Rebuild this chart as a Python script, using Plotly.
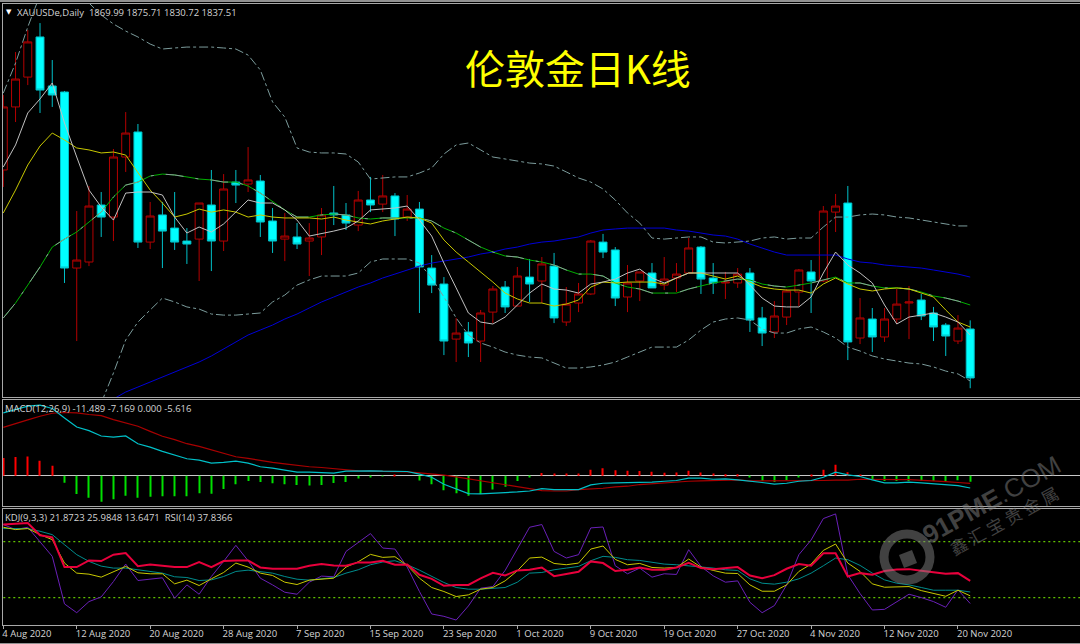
import plotly.graph_objects as go

symbol_label = "XAUUSDe,Daily  1869.99 1875.71 1830.72 1837.51"
macd_label = "MACD(12,26,9) -11.489 -7.169 0.000 -5.616"
kdj_label = "KDJ(9,3,3) 21.8723 25.9848 13.6471  RSI(14) 37.8366"
chart_title = "伦敦金日K线"
watermark = "<b>91PME</b>.COM"
watermark_cn = "鑫 汇 宝 贵 金 属"

tick_bars = [0, 6, 12, 18, 24, 30, 36, 42, 48, 54, 60, 66, 72, 78]
tick_labels = ["4 Aug 2020", "12 Aug 2020", "20 Aug 2020", "28 Aug 2020", "7 Sep 2020", "15 Sep 2020",
               "23 Sep 2020", "1 Oct 2020", "9 Oct 2020", "19 Oct 2020", "27 Oct 2020", "4 Nov 2020",
               "12 Nov 2020", "20 Nov 2020"]

opens = [1975.4, 2017.2, 2037.0, 2063.6, 2031.1, 2027.1, 1910.4, 1914.4, 1952.2, 1944.2,
         1984.0, 2000.6, 1927.6, 1945.6, 1936.9, 1928.3, 1929.6, 1952.2, 1928.3, 1967.4,
         1966.1, 1968.1, 1941.6, 1929.6, 1931.0, 1928.3, 1931.0, 1946.9, 1945.6, 1938.9,
         1955.5, 1952.8, 1958.2, 1944.2, 1949.5, 1910.4, 1899.8, 1863.3, 1868.0, 1862.0,
         1881.2, 1897.8, 1885.2, 1904.4, 1901.8, 1911.7, 1874.6, 1887.2, 1893.2, 1927.6,
         1922.4, 1891.2, 1901.8, 1907.1, 1899.1, 1903.8, 1907.1, 1924.3, 1903.8, 1900.5,
         1900.5, 1907.1, 1877.3, 1868.0, 1877.9, 1894.5, 1907.8, 1901.8, 1947.5, 1953.5,
         1864.0, 1876.6, 1864.7, 1876.6, 1887.2, 1889.2, 1880.6, 1872.6, 1862.0, 1869.99]
highs = [2025.1, 2053.6, 2068.2, 2072.8, 2048.3, 2027.8, 1948.2, 1964.8, 1960.8, 1989.3,
         2013.8, 2005.9, 1954.2, 1954.2, 1960.8, 1936.9, 1953.5, 1975.4, 1972.7, 1975.4,
         1990.6, 1972.1, 1950.2, 1946.9, 1940.2, 1940.2, 1950.2, 1964.8, 1953.5, 1961.5,
         1970.8, 1972.1, 1960.1, 1958.8, 1954.2, 1919.0, 1904.4, 1877.3, 1874.6, 1882.6,
         1898.5, 1901.8, 1911.1, 1916.4, 1917.7, 1920.4, 1897.8, 1900.5, 1929.0, 1933.0,
         1924.3, 1912.4, 1907.8, 1913.7, 1917.7, 1913.7, 1930.3, 1925.0, 1913.7, 1907.8,
         1910.4, 1910.4, 1884.6, 1888.5, 1896.5, 1909.7, 1915.7, 1951.5, 1959.5, 1964.8,
         1890.5, 1883.9, 1883.9, 1896.5, 1898.5, 1893.2, 1884.6, 1873.9, 1879.2, 1875.71]
lows = [1964.1, 2007.2, 2031.7, 2013.2, 2017.2, 1900.5, 1862.0, 1911.7, 1931.0, 1928.3,
        1974.1, 1923.7, 1923.0, 1910.4, 1922.4, 1913.1, 1901.8, 1908.4, 1921.7, 1953.5,
        1960.8, 1931.0, 1920.4, 1915.0, 1923.0, 1905.1, 1919.0, 1938.9, 1935.6, 1934.9,
        1947.5, 1947.5, 1931.6, 1941.6, 1880.6, 1893.8, 1852.7, 1848.1, 1851.4, 1848.1,
        1873.9, 1880.6, 1885.2, 1887.9, 1887.2, 1873.9, 1872.0, 1881.2, 1892.5, 1917.0,
        1885.2, 1881.2, 1888.5, 1897.2, 1895.8, 1894.5, 1907.1, 1893.2, 1893.2, 1889.9,
        1897.2, 1868.0, 1858.7, 1864.0, 1872.6, 1885.2, 1880.6, 1901.1, 1934.3, 1849.4,
        1860.0, 1854.7, 1861.4, 1873.3, 1863.3, 1875.9, 1862.0, 1852.1, 1860.0, 1830.72]
closes = [2017.2, 2035.7, 2060.3, 2028.4, 2025.1, 1910.4, 1915.7, 1951.5, 1944.2, 1984.0,
          1999.9, 1927.6, 1944.9, 1934.9, 1927.6, 1926.3, 1953.5, 1928.3, 1962.8, 1965.4,
          1968.8, 1940.9, 1928.3, 1931.6, 1926.3, 1930.3, 1945.6, 1945.6, 1940.2, 1955.5,
          1952.2, 1958.2, 1942.9, 1949.5, 1911.1, 1899.1, 1862.0, 1867.3, 1860.7, 1880.6,
          1896.5, 1884.6, 1905.1, 1899.8, 1913.1, 1877.3, 1886.5, 1893.2, 1928.3, 1921.0,
          1890.5, 1900.5, 1907.8, 1897.2, 1903.1, 1906.4, 1923.7, 1903.1, 1900.5, 1901.1,
          1906.4, 1875.9, 1867.3, 1878.6, 1895.2, 1909.1, 1901.8, 1948.2, 1951.5, 1861.4,
          1877.3, 1864.7, 1876.6, 1886.5, 1887.9, 1878.6, 1871.3, 1865.3, 1870.6, 1837.51]

ma_white = [1977.4, 1992.0, 2013.2, 2022.5, 2033.1, 2006.6, 1984.0, 1962.1, 1950.9, 1942.2,
            1960.1, 1960.8, 1960.8, 1958.8, 1944.2, 1933.6, 1937.6, 1934.3, 1939.6, 1947.5,
            1955.5, 1953.5, 1953.5, 1948.9, 1942.2, 1931.6, 1933.0, 1934.9, 1936.9, 1941.6,
            1948.9, 1949.5, 1950.2, 1951.5, 1942.2, 1931.6, 1913.7, 1897.2, 1880.6, 1874.6,
            1873.3, 1877.9, 1885.9, 1893.8, 1899.8, 1896.5, 1895.8, 1893.8, 1899.8, 1901.1,
            1903.1, 1907.1, 1909.7, 1903.8, 1900.5, 1903.8, 1907.1, 1907.1, 1907.1, 1907.1,
            1907.1, 1899.1, 1890.5, 1885.2, 1884.6, 1884.6, 1891.2, 1907.1, 1921.0, 1912.4,
            1907.1, 1900.5, 1885.9, 1873.3, 1877.9, 1879.2, 1880.6, 1877.9, 1874.6, 1866.0]
ma_yellow = [1946.9, 1962.1, 1978.7, 1991.3, 1999.9, 1995.3, 1990.0, 1988.7, 1986.7, 1987.3,
             1985.3, 1973.4, 1962.1, 1953.5, 1944.2, 1946.2, 1949.5, 1947.5, 1948.9, 1947.5,
             1944.2, 1945.6, 1944.2, 1943.6, 1943.6, 1943.6, 1942.9, 1944.2, 1942.2, 1940.9,
             1939.6, 1941.6, 1942.9, 1944.2, 1943.6, 1940.2, 1929.0, 1921.0, 1914.4, 1907.8,
             1901.1, 1893.8, 1889.9, 1887.2, 1887.2, 1885.2, 1886.5, 1889.2, 1897.8, 1901.1,
             1900.5, 1901.1, 1901.1, 1901.1, 1899.8, 1903.8, 1907.1, 1907.1, 1905.1, 1903.1,
             1905.1, 1901.1, 1897.8, 1896.5, 1895.8, 1895.8, 1893.8, 1899.8, 1903.8, 1899.8,
             1896.5, 1895.2, 1896.5, 1897.2, 1896.5, 1893.8, 1891.2, 1882.6, 1874.6, 1871.3]
ma_green = [1877.3, 1887.2, 1899.1, 1911.1, 1924.3, 1929.6, 1934.3, 1940.9, 1947.5, 1957.5,
            1965.4, 1967.4, 1971.4, 1972.7, 1972.1, 1970.8, 1969.4, 1968.8, 1967.4, 1967.4,
            1964.8, 1960.1, 1954.2, 1948.9, 1944.2, 1944.2, 1945.6, 1946.2, 1945.6, 1943.6,
            1942.9, 1943.6, 1943.6, 1943.6, 1943.6, 1941.6, 1936.9, 1933.6, 1929.0, 1924.3,
            1921.0, 1918.4, 1917.7, 1915.7, 1914.4, 1912.4, 1909.1, 1906.4, 1906.4, 1905.1,
            1900.5, 1897.8, 1896.5, 1893.8, 1893.8, 1893.8, 1896.5, 1898.5, 1900.5, 1901.8,
            1903.1, 1902.5, 1899.8, 1898.5, 1897.8, 1899.1, 1900.5, 1902.5, 1904.4, 1900.5,
            1900.5, 1898.5, 1897.2, 1897.2, 1896.5, 1894.5, 1891.9, 1890.5, 1888.5, 1885.9]
ma_blue = [None, None, None, None, None, None, None, None, None, 1823.6,
           1828.2, 1831.5, 1834.9, 1838.2, 1841.5, 1844.8, 1848.1, 1852.1, 1856.7, 1861.4,
           1866.0, 1869.3, 1872.6, 1876.6, 1879.9, 1883.9, 1887.9, 1891.2, 1894.5, 1897.8,
           1900.5, 1903.8, 1906.4, 1909.1, 1911.7, 1913.7, 1915.0, 1916.4, 1917.7, 1919.7,
           1921.0, 1923.0, 1924.3, 1926.3, 1927.6, 1928.3, 1929.6, 1931.0, 1933.6, 1935.6,
           1936.3, 1936.9, 1936.9, 1936.9, 1936.9, 1935.6, 1934.9, 1933.6, 1932.3, 1931.6,
           1929.6, 1926.3, 1923.7, 1921.0, 1919.0, 1919.0, 1919.0, 1919.0, 1919.0, 1916.4,
           1914.4, 1913.7, 1912.4, 1911.7, 1911.1, 1910.4, 1909.1, 1907.8, 1906.4, 1904.4]
bb_upper = [2026.4, 2046.3, 2070.2, 2091.4, 2101.4, 2108.0, 2101.4, 2086.1, 2078.2, 2072.2,
            2067.5, 2063.6, 2058.9, 2055.6, 2056.3, 2056.9, 2056.9, 2056.9, 2056.3, 2055.6,
            2051.6, 2041.7, 2020.5, 2010.5, 1990.0, 1987.3, 1986.7, 1986.7, 1986.0, 1980.7,
            1969.4, 1970.1, 1970.8, 1970.8, 1973.4, 1976.7, 1986.0, 1992.0, 1993.3, 1988.7,
            1984.0, 1982.7, 1981.4, 1980.0, 1979.4, 1978.0, 1974.1, 1970.1, 1967.4, 1962.8,
            1955.5, 1946.9, 1940.2, 1930.3, 1929.6, 1930.3, 1931.0, 1931.0, 1927.6, 1927.0,
            1927.6, 1928.3, 1930.3, 1931.0, 1929.6, 1930.3, 1930.3, 1937.6, 1944.2, 1944.2,
            1945.6, 1946.2, 1945.6, 1944.2, 1943.6, 1942.2, 1940.9, 1939.6, 1938.3, 1938.3]
bb_lower = [None, None, None, None, None, None, None, None, 1820.9, 1840.8,
            1862.7, 1874.6, 1882.6, 1890.5, 1887.9, 1884.6, 1883.2, 1879.9, 1879.2, 1879.2,
            1879.9, 1880.6, 1887.9, 1892.5, 1899.1, 1902.5, 1905.1, 1905.1, 1905.1, 1907.1,
            1914.4, 1916.4, 1916.4, 1916.4, 1913.7, 1903.8, 1891.2, 1877.3, 1866.0, 1860.7,
            1858.0, 1854.7, 1852.7, 1851.4, 1850.8, 1847.4, 1844.1, 1844.1, 1844.8, 1846.1,
            1848.1, 1851.4, 1854.7, 1858.0, 1858.0, 1858.0, 1862.7, 1869.3, 1874.6, 1876.6,
            1877.3, 1875.9, 1870.0, 1867.3, 1867.3, 1870.0, 1871.3, 1868.0, 1864.0, 1858.0,
            1855.4, 1852.1, 1850.1, 1848.8, 1847.4, 1846.8, 1844.8, 1842.1, 1840.2, 1835.5]

macd_line = [59.5, 62.7, 65.9, 66.8, 63.7, 54.8, 46.2, 42.8, 37.7, 36.7,
             37.7, 30.4, 27.2, 23.1, 19.3, 16.2, 14.9, 12.0, 12.7, 13.9,
             12.0, 8.6, 7.3, 5.1, 3.5, 3.5, 3.2, 2.5, 4.4, 4.8,
             4.8, 4.4, 4.1, 4.1, 1.6, -1.3, -7.9, -12.7, -16.8, -17.1,
             -16.5, -16.5, -15.2, -14.3, -12.0, -13.0, -13.0, -13.0, -8.6, -7.0,
             -6.7, -6.7, -6.0, -6.0, -5.1, -4.4, -2.2, -2.2, -3.2, -2.9,
             -3.8, -4.8, -6.3, -7.9, -7.0, -5.1, -4.4, -1.3, 3.5, 1.0,
             -0.6, -3.8, -6.7, -6.7, -6.0, -6.7, -7.3, -8.6, -9.2, -11.489]
macd_signal = [45.9, 49.1, 52.9, 56.4, 59.2, 59.9, 59.5, 58.0, 57.0, 53.2,
               50.0, 46.9, 42.1, 37.4, 34.2, 30.4, 27.9, 24.7, 21.5, 18.1,
               16.5, 14.3, 12.7, 11.4, 9.8, 8.6, 7.9, 6.7, 5.4, 4.8,
               4.4, 4.4, 4.4, 3.8, 2.9, 1.9, 0.6, -1.0, -2.9, -4.8,
               -6.7, -8.6, -10.5, -12.4, -13.9, -14.3, -14.3, -13.0, -12.7, -11.7,
               -10.5, -9.8, -8.2, -7.3, -6.3, -6.0, -5.1, -4.8, -4.4, -3.8,
               -3.8, -4.8, -4.8, -5.1, -5.1, -5.1, -4.8, -4.4, -4.1, -4.1,
               -3.2, -3.5, -3.5, -3.5, -3.5, -4.1, -4.1, -5.4, -6.3, -7.169]
macd_hist = [16.8, 17.8, 18.3, 14.3, 9.5, -6.4, -17.1, -20.6, -24.4, -22.1,
             -18.7, -20.6, -19.7, -19.3, -19.3, -19.3, -16.4, -16.8, -12.4, -7.9,
             -4.8, -5.7, -6.9, -7.9, -8.6, -9.2, -8.6, -6.7, -5.7, -2.6,
             -1.2, -0.3, 1.0, 0.0, -4.5, -7.9, -13.6, -16.4, -18.7, -17.1,
             -13.0, -10.2, -4.8, -1.6, 2.6, 2.2, 2.2, 2.2, 5.7, 7.3,
             5.4, 4.8, 4.5, 3.8, 2.9, 3.1, 4.8, 3.1, 2.2, 1.6,
             1.6, -1.6, -4.8, -5.7, -4.1, -1.2, 1.0, 5.7, 10.5, 3.5,
             1.0, -3.5, -4.8, -4.8, -4.8, -4.8, -4.8, -4.8, -4.1, -5.616]

kdj_k = [95.4, 92.9, 94.0, 87.5, 82.1, 57.0, 46.2, 45.1, 41.9, 48.0,
         53.4, 46.6, 45.5, 45.5, 34.7, 38.7, 32.9, 40.1, 46.9, 57.0,
         52.7, 46.2, 43.7, 36.5, 34.0, 38.7, 40.1, 40.8, 52.7, 58.4,
         66.3, 63.1, 63.8, 54.5, 40.8, 30.8, 26.5, 21.1, 22.9, 29.0,
         30.8, 37.9, 48.7, 62.4, 63.4, 56.6, 55.2, 57.0, 72.0, 75.3,
         60.9, 55.2, 56.6, 52.3, 51.6, 52.3, 61.3, 52.7, 49.1, 46.2,
         45.8, 33.6, 26.8, 26.8, 33.6, 48.0, 55.9, 70.6, 77.4, 57.0,
         48.0, 34.7, 31.1, 31.1, 31.8, 27.5, 24.7, 21.4, 27.9, 21.8723]
kdj_d = [94.0, 94.0, 94.0, 91.1, 87.5, 76.7, 66.0, 58.8, 53.7, 51.6,
         51.6, 49.8, 48.0, 46.2, 42.3, 41.5, 38.3, 39.0, 42.6, 48.0,
         49.4, 48.0, 46.2, 42.6, 39.7, 38.7, 40.1, 41.5, 46.2, 49.8,
         55.2, 58.1, 59.5, 55.2, 49.4, 42.6, 36.2, 30.8, 29.0, 29.0,
         30.0, 30.8, 36.5, 46.2, 46.9, 49.8, 51.6, 53.4, 59.5, 64.2,
         63.1, 60.6, 59.8, 58.1, 55.9, 55.2, 54.1, 52.3, 51.6, 49.8,
         49.1, 40.1, 35.4, 34.4, 36.5, 40.1, 46.2, 54.1, 62.4, 60.6,
         54.5, 46.2, 39.0, 35.4, 33.6, 30.8, 27.9, 27.9, 27.9, 25.9848]
kdj_j = [98.3, 92.9, 95.4, 80.3, 64.2, 13.2, 3.8, 15.7, 20.7, 37.2,
         55.9, 38.3, 39.7, 41.2, 19.3, 33.6, 23.6, 42.6, 58.8, 76.0,
         59.5, 40.8, 33.6, 25.7, 23.6, 36.5, 43.0, 42.3, 69.5, 79.2,
         88.6, 73.1, 72.0, 52.7, 26.5, 2.4, -0.1, -4.1, 11.0, 30.0,
         31.8, 49.1, 72.4, 95.4, 98.3, 69.5, 62.4, 66.0, 94.7, 95.7,
         54.1, 45.5, 51.6, 41.9, 45.5, 44.8, 71.3, 53.4, 43.3, 36.5,
         37.9, 15.0, 3.8, 11.4, 33.6, 66.0, 81.7, 104.7, 109.7, 44.4,
         24.3, 6.7, 7.4, 15.7, 23.6, 20.0, 15.7, 9.6, 28.3, 13.6471]
rsi = [98.3, 99.3, 99.9, 86.8, 84.6, 52.7, 52.7, 59.8, 59.1, 66.0,
       67.7, 53.7, 55.5, 54.1, 52.7, 52.7, 58.0, 52.7, 59.1, 59.8,
       59.8, 52.3, 50.9, 50.9, 50.9, 54.1, 55.9, 54.5, 54.1, 57.7,
       57.7, 59.5, 55.2, 55.5, 44.4, 40.1, 32.6, 33.6, 33.6, 40.5,
       46.6, 43.7, 49.1, 49.8, 52.3, 43.0, 45.5, 47.6, 58.8, 57.0,
       48.4, 49.8, 52.3, 49.8, 49.8, 52.3, 57.3, 51.6, 50.5, 51.2,
       52.7, 43.7, 40.8, 44.1, 50.9, 55.9, 54.1, 67.4, 67.4, 42.6,
       46.2, 44.4, 48.4, 50.2, 50.5, 48.7, 46.9, 45.5, 46.2, 37.8366]
level_high = 80
level_low = 20

bars = list(range(len(closes)))
for series in (opens, highs, lows, ma_white, ma_yellow, ma_green, ma_blue, bb_upper, bb_lower,
               macd_line, macd_signal, macd_hist, kdj_k, kdj_d, kdj_j, rsi):
    assert len(series) == 80, len(series)

W, H = 1080, 644
def py(p):
    return 1 - p / H
def px(p):
    return p / W

GRID = "#a8a8a8"
TEXT = "#d4d4d4"
FONT = "Open Sans"
LABEL_SIZE = 9.5

fig = go.Figure()

fig.add_trace(go.Candlestick(
    x=bars, open=opens, high=highs, low=lows, close=closes, xaxis="x", yaxis="y",
    increasing=dict(line=dict(color="#b40000", width=1), fillcolor="black"),
    decreasing=dict(line=dict(color="#00c0c8", width=1), fillcolor="#00ffff"),
    whiskerwidth=0, showlegend=False))

def line(y, color, width=1, dash=None, xa="x", ya="y"):
    fig.add_trace(go.Scatter(x=bars, y=y, mode="lines", xaxis=xa, yaxis=ya, showlegend=False,
                             connectgaps=False, line=dict(color=color, width=width, dash=dash)))

line(ma_blue, "#0000d8")
line(ma_green, "#00b000")
line(ma_green, "#8c9c9c", 1, "18px,12px,3px,12px")
line(bb_upper, "#7c9c9c", 1, "dashdot")
line(bb_lower, "#7c9c9c", 1, "dashdot")
line(ma_yellow, "#c8c800")
line(ma_white, "#c0c0c0")

fig.add_trace(go.Bar(x=bars, y=macd_hist, width=0.09, xaxis="x2", yaxis="y2", showlegend=False,
                     marker=dict(color=["#ff0000" if v > 0 else "#00e000" for v in macd_hist], line=dict(width=0))))
line(macd_signal, "#a80000", 1.2, xa="x2", ya="y2")
line(macd_line, "#00c0c8", 1.2, xa="x2", ya="y2")

for level in (level_high, level_low):
    fig.add_trace(go.Scatter(x=[bars[0], 88], y=[level, level], mode="lines", xaxis="x3", yaxis="y3",
                             showlegend=False, line=dict(color="#60c000", width=1.3, dash="2px,3px")))
line(kdj_j, "#6a20b8", xa="x3", ya="y3")
line(kdj_d, "#008c8c", xa="x3", ya="y3")
line(kdj_k, "#c8c800", xa="x3", ya="y3")
line(rsi, "#e8003c", 2, xa="x3", ya="y3")

x_range = [-0.065, 87.97]
common_x = dict(range=x_range, showgrid=False, zeroline=False, showline=True, linecolor=GRID, linewidth=1,
                mirror=True, domain=[px(2.5), 1.0], rangeslider=dict(visible=False))
common_y = dict(showgrid=False, showticklabels=False, ticks="", showline=True, linecolor=GRID, linewidth=1, mirror=True)

def note(text, x, y, xanchor="left", **font):
    return dict(text=text, x=px(x), y=py(y), xref="paper", yref="paper", xanchor=xanchor, yanchor="middle",
                showarrow=False, font=font)

wm = "rgba(130,130,130,0.5)"
annotations = [
    note(chart_title, 578, 67, "center", family="Noto Sans CJK SC", size=40, color="#ffff00"),
    note("▼", 4, 11.5, family="DejaVu Sans", size=7, color="#ffffff"),
    note(symbol_label, 15, 12, family=FONT, size=LABEL_SIZE, color=TEXT),
    note(macd_label, 3, 408, family=FONT, size=LABEL_SIZE, color=TEXT),
    note(kdj_label, 3, 517, family=FONT, size=LABEL_SIZE, color=TEXT),
    {**note(watermark, 991, 500, "center", family="Liberation Sans", size=26, color=wm), "textangle": -29},
    {**note(watermark_cn, 1003, 520, "center", family="Noto Sans CJK SC", size=17, color=wm), "textangle": -29},
]

shapes = [
    dict(type="line", xref="paper", yref="paper", x0=0, x1=1, y0=py(1), y1=py(1), line=dict(color="#909090", width=2)),
    dict(type="line", xref="paper", yref="paper", x0=0, x1=1, y0=py(643.5), y1=py(643.5), line=dict(color="#909090", width=1)),
    dict(type="circle", xref="paper", yref="paper", x0=px(884), x1=px(930), y0=py(580), y1=py(534),
         line=dict(color=wm, width=9)),
    dict(type="path", xref="paper", yref="paper", line=dict(width=0), fillcolor=wm,
         path="M {} {} L {} {} L {} {} L {} {} Z".format(px(899), py(555), px(912), py(550), px(917), py(563), px(904), py(568))),
]

fig.update_layout(
    width=W, height=H, autosize=False,
    margin=dict(l=0, r=0, t=0, b=0),
    paper_bgcolor="black", plot_bgcolor="black",
    showlegend=False, barmode="overlay", boxgap=0.35, boxgroupgap=0, hovermode=False,
    annotations=annotations, shapes=shapes,
    xaxis=dict(**common_x, anchor="y", showticklabels=False, ticks=""),
    xaxis2=dict(**common_x, anchor="y2", showticklabels=False, ticks=""),
    xaxis3=dict(**common_x, anchor="y3", tickmode="array", tickvals=tick_bars, ticktext=tick_labels,
                ticks="outside", ticklen=3, tickcolor=GRID, ticklabelposition="outside right", ticklabelshift=-2,
                tickfont=dict(family=FONT, size=LABEL_SIZE, color=TEXT)),
    yaxis=dict(**common_y, anchor="x", domain=[py(397), py(4)], range=[1824.9, 2085.45], zeroline=False),
    yaxis2=dict(**common_y, anchor="x2", domain=[py(506), py(399.5)], range=[-28.5, 72.2],
                zeroline=True, zerolinecolor="#c8c8c8", zerolinewidth=1),
    yaxis3=dict(**common_y, anchor="x3", domain=[py(625), py(508.5)], range=[-9.4, 115.5], zeroline=False),
)

fig.write_html("out.html", config=dict(displayModeBar=False),
               post_script="document.body.style.margin='0';document.body.style.background='black';")
